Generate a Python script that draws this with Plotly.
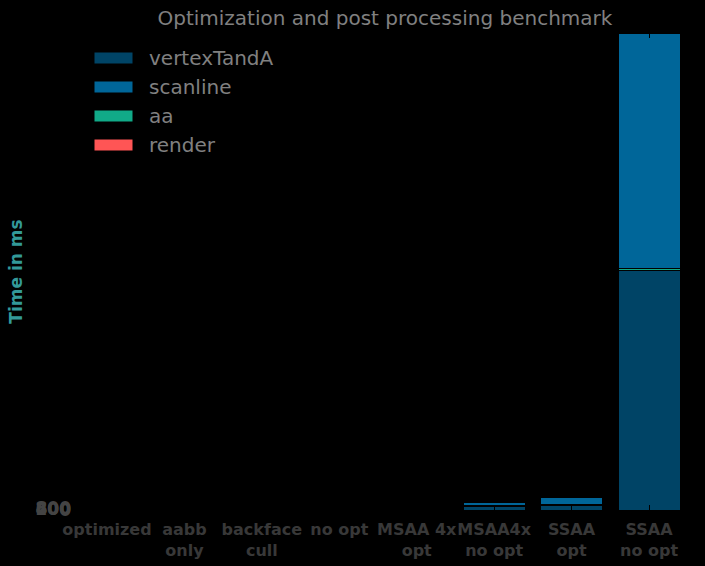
import plotly.graph_objects as go

categories = ["optimized", "aabb<br>only", "backface<br>cull", "no opt",
              "MSAA 4x<br>opt", "MSAA4x<br>no opt", "SSAA<br>opt", "SSAA<br>no opt"]

# times in ms per stage
vertexTandA = [8, 7, 7, 9, 60, 1400, 2000, 99800]
scanline = [6, 5, 5, 7, 50, 1400, 3000, 98000]
aa = [0, 0, 0, 0, 20, 300, 300, 800]
render = [2, 2, 2, 2, 10, 80, 100, 150]

y_ticks = [0, 200, 400, 600, 800]

series = [
    ("vertexTandA", vertexTandA, "#004466"),
    ("scanline", scanline, "#006699"),
    ("aa", aa, "#11aa88"),
    ("render", render, "#ff5555"),
]

# in the original the aa/render slivers sit between vertexTandA and scanline
stack_order = ["vertexTandA", "aa", "render", "scanline"]

fig = go.Figure()
lookup = {name: (vals, col) for name, vals, col in series}
for name in stack_order:
    vals, col = lookup[name]
    fig.add_trace(go.Bar(
        x=list(range(len(categories))), y=vals, name=name,
        marker=dict(color=col, line=dict(color="black", width=1)),
        width=0.8, showlegend=False,
    ))

# legend drawn by hand so the patches are wide like the original
for i, (name, vals, col) in enumerate(series):
    yy = 58 + i * 29
    fig.add_shape(type="rect", xref="paper", yref="paper",
                  x0=(94 - 76) / 604, x1=(133 - 76) / 604,
                  y0=(510 - yy - 6) / 477, y1=(510 - yy + 6) / 477,
                  fillcolor=col, line=dict(color="black", width=1))
    fig.add_annotation(text=name, xref="paper", yref="paper",
                       x=(147 - 76) / 604, y=(510 - yy) / 477,
                       xanchor="left", yanchor="middle", showarrow=False,
                       font=dict(size=20, color="#808080"))

total_last = vertexTandA[-1] + scanline[-1] + aa[-1] + render[-1]

fig.update_layout(
    barmode="stack",
    width=705, height=566,
    paper_bgcolor="black", plot_bgcolor="black",
    margin=dict(l=76, r=25, t=33, b=56),
    font=dict(family="DejaVu Sans", color="#808080"),
    title=dict(text="Optimization and post processing benchmark",
               x=0.546, xanchor="center", y=0.968, yanchor="middle",
               font=dict(size=20, color="#808080")),
    bargap=0.2,
)
fig.update_xaxes(
    range=[-0.4, 7.4], tickvals=list(range(len(categories))), ticktext=categories,
    tickfont=dict(size=16, color="#383838", family="DejaVu Sans", weight="bold"),
    tickangle=0, automargin=False,
    ticks="inside", ticklen=5, tickcolor="black", showline=True, linecolor="black",
    mirror="ticks", showgrid=False, zeroline=False, ticklabelstandoff=5,
)
fig.update_yaxes(
    range=[0, total_last], tickvals=y_ticks, automargin=False,
    tickfont=dict(size=17, color="#444444", family="DejaVu Sans", weight="bold"),
    title=dict(text="<b>Time in ms</b>", font=dict(size=17, color="#339999"), standoff=8),
    showgrid=False, zeroline=False, showline=False, ticks="", ticklabelstandoff=4,
)

fig.write_html("out.html", config={"displayModeBar": False},
               post_script="document.body.style.margin='0';document.body.style.background='black';")
